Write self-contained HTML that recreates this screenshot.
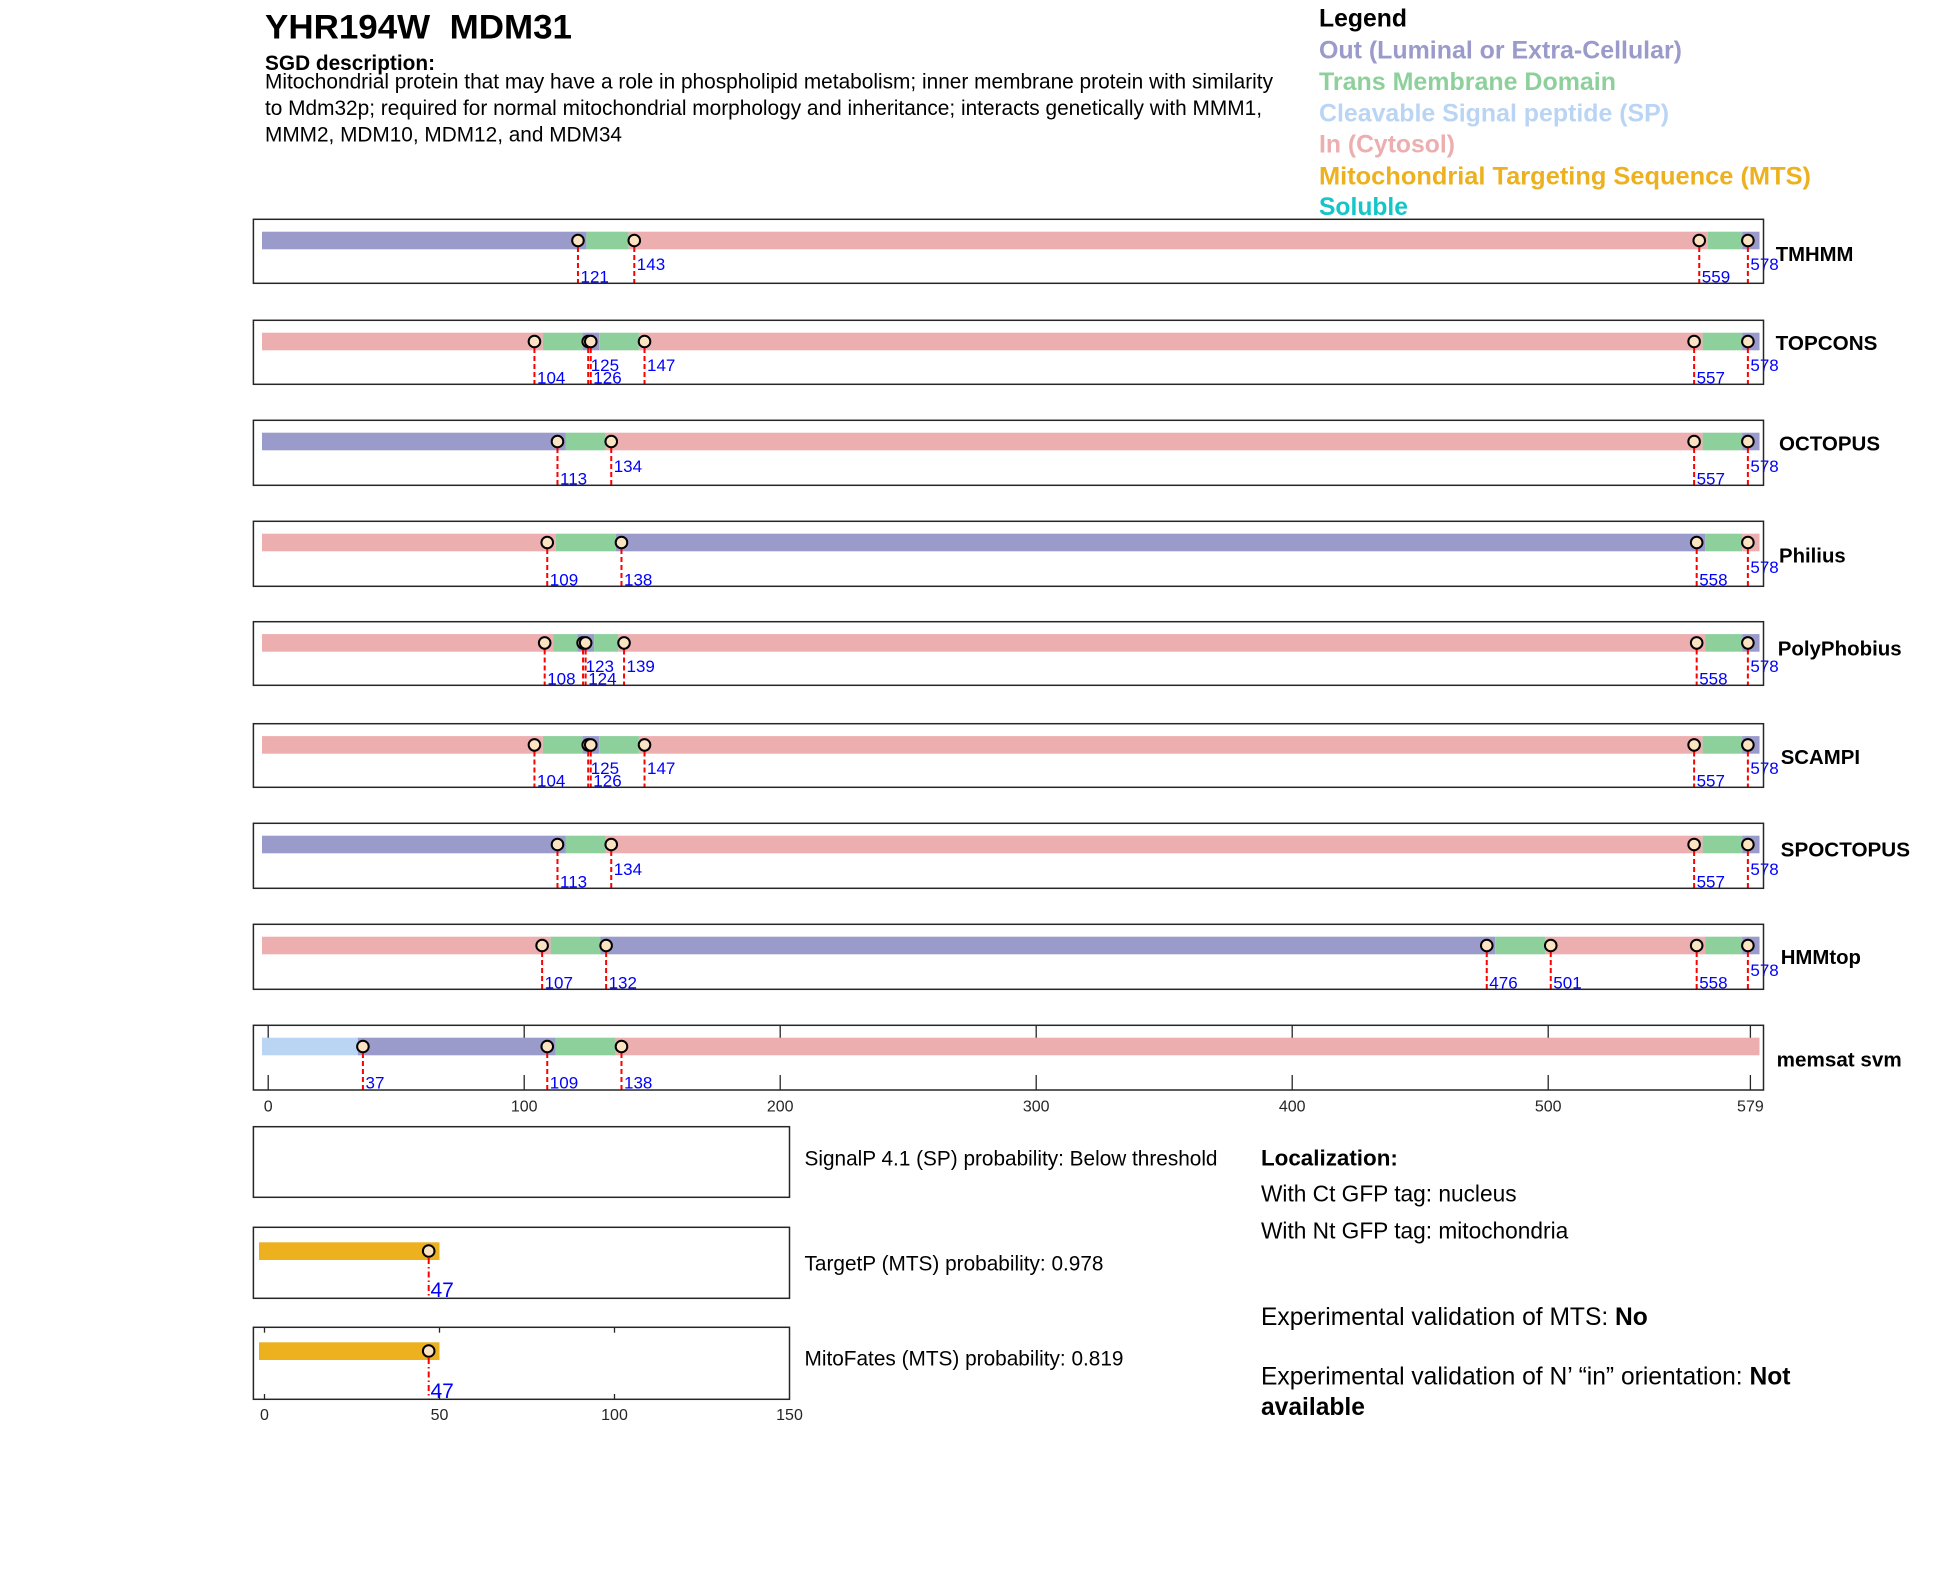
<!DOCTYPE html>
<html><head><meta charset="utf-8"><style>
html,body{margin:0;padding:0;background:#fff;}
svg{display:block;}
text{font-family:"Liberation Sans",Arial,sans-serif;}
.b{font-weight:bold;}
.lab{font-size:17px;fill:#0000ff;}
.pl{font-size:20.5px;font-weight:bold;fill:#000;}
.tk{font-size:16px;fill:#262626;text-anchor:middle;}
.rl{stroke:#ff0000;stroke-width:2;stroke-dasharray:5 3;}
.rd{stroke:#ff0000;stroke-width:2;stroke-dasharray:6 3 1.5 3;}
.mk{fill:#fce3c2;stroke:#000;stroke-width:2;}
.fr{fill:none;stroke:#262626;stroke-width:1.5;}
.tkl{stroke:#262626;stroke-width:1.3;}
</style></head><body>
<svg width="1950" height="1573" viewBox="0 0 1950 1573" xmlns="http://www.w3.org/2000/svg">
<rect width="1950" height="1573" fill="#fff"/>
<defs>
<g id="tc">
  <rect x="262" y="0" width="280.9" height="17.6" fill="#edaeaf"/>
  <rect x="542.9" y="0" width="39.7" height="17.6" fill="#8ed09c"/>
  <rect x="582.6" y="0" width="16.6" height="17.6" fill="#9a9acb"/>
  <rect x="599.2" y="0" width="39.7" height="17.6" fill="#8ed09c"/>
  <rect x="638.9" y="0" width="1063.7" height="17.6" fill="#edaeaf"/>
  <rect x="1702.6" y="0" width="39.6" height="17.6" fill="#8ed09c"/>
  <rect x="1742.2" y="0" width="17.3" height="17.6" fill="#9a9acb"/>
</g>
<g id="oc">
  <rect x="262" y="0" width="303.9" height="17.6" fill="#9a9acb"/>
  <rect x="565.9" y="0" width="39.7" height="17.6" fill="#8ed09c"/>
  <rect x="605.6" y="0" width="1097" height="17.6" fill="#edaeaf"/>
  <rect x="1702.6" y="0" width="39.6" height="17.6" fill="#8ed09c"/>
  <rect x="1742.2" y="0" width="17.3" height="17.6" fill="#9a9acb"/>
</g>
</defs>

<!-- Title & description -->
<text x="265" y="38.5" class="b" font-size="34" textLength="307" lengthAdjust="spacingAndGlyphs" xml:space="preserve">YHR194W  MDM31</text>
<text x="265" y="70" class="b" font-size="20.8" textLength="170" lengthAdjust="spacingAndGlyphs">SGD description:</text>
<text x="265" y="88.3" font-size="20.8" textLength="1008" lengthAdjust="spacingAndGlyphs">Mitochondrial protein that may have a role in phospholipid metabolism; inner membrane protein with similarity</text>
<text x="265" y="115" font-size="20.8" textLength="997" lengthAdjust="spacingAndGlyphs">to Mdm32p; required for normal mitochondrial morphology and inheritance; interacts genetically with MMM1,</text>
<text x="265" y="141.7" font-size="20.8" textLength="357" lengthAdjust="spacingAndGlyphs">MMM2, MDM10, MDM12, and MDM34</text>

<!-- Legend -->
<text x="1319" y="26.7" class="b" font-size="25" fill="#000" textLength="88" lengthAdjust="spacingAndGlyphs">Legend</text>
<text x="1319" y="58.3" class="b" font-size="25" fill="#9a9acb" textLength="363" lengthAdjust="spacingAndGlyphs">Out (Luminal or Extra-Cellular)</text>
<text x="1319" y="90" class="b" font-size="25" fill="#8ed09c" textLength="297" lengthAdjust="spacingAndGlyphs">Trans Membrane Domain</text>
<text x="1319" y="121.7" class="b" font-size="25" fill="#bad5f4" textLength="350" lengthAdjust="spacingAndGlyphs">Cleavable Signal peptide (SP)</text>
<text x="1319" y="152.7" class="b" font-size="25" fill="#edaeaf" textLength="136" lengthAdjust="spacingAndGlyphs">In (Cytosol)</text>
<text x="1319" y="184.3" class="b" font-size="25" fill="#edb120" textLength="492" lengthAdjust="spacingAndGlyphs">Mitochondrial Targeting Sequence (MTS)</text>
<text x="1319" y="215" class="b" font-size="25" fill="#14c6c8" textLength="89" lengthAdjust="spacingAndGlyphs">Soluble</text>

<!-- Panel 1 TMHMM -->
<g transform="translate(0,231.7)">
  <rect x="262" y="0" width="324.4" height="17.6" fill="#9a9acb"/>
  <rect x="586.4" y="0" width="42.25" height="17.6" fill="#8ed09c"/>
  <rect x="628.65" y="0" width="1079.05" height="17.6" fill="#edaeaf"/>
  <rect x="1707.7" y="0" width="34.5" height="17.6" fill="#8ed09c"/>
  <rect x="1742.2" y="0" width="17.3" height="17.6" fill="#9a9acb"/>
</g>
<g>
  <line class="rl" x1="577.96" y1="247" x2="577.96" y2="283.3"/>
  <line class="rl" x1="634.28" y1="247" x2="634.28" y2="283.3"/>
  <line class="rl" x1="1699.24" y1="247" x2="1699.24" y2="283.3"/>
  <line class="rl" x1="1747.88" y1="247" x2="1747.88" y2="283.3"/>
  <circle class="mk" cx="577.96" cy="240.5" r="5.8"/>
  <circle class="mk" cx="634.28" cy="240.5" r="5.8"/>
  <circle class="mk" cx="1699.24" cy="240.5" r="5.8"/>
  <circle class="mk" cx="1747.88" cy="240.5" r="5.8"/>
  <text class="lab" x="580.5" y="282.3">121</text>
  <text class="lab" x="636.8" y="269.8">143</text>
  <text class="lab" x="1701.8" y="282.3">559</text>
  <text class="lab" x="1750.4" y="269.8">578</text>
  <rect class="fr" x="253.4" y="219.3" width="1510.1" height="64"/>
  <text class="pl" x="1775.7" y="261" textLength="77.7" lengthAdjust="spacingAndGlyphs">TMHMM</text>
</g>

<!-- Panel 2 TOPCONS -->
<use href="#tc" transform="translate(0,332.7)"/>
<g>
  <line class="rl" x1="534.44" y1="348" x2="534.44" y2="384.3"/>
  <line class="rl" x1="588.2" y1="348" x2="588.2" y2="384.3"/>
  <line class="rl" x1="590.76" y1="348" x2="590.76" y2="384.3"/>
  <line class="rl" x1="644.52" y1="348" x2="644.52" y2="384.3"/>
  <line class="rl" x1="1694.12" y1="348" x2="1694.12" y2="384.3"/>
  <line class="rl" x1="1747.88" y1="348" x2="1747.88" y2="384.3"/>
  <circle class="mk" cx="534.44" cy="341.5" r="5.8"/>
  <circle class="mk" cx="588.2" cy="341.5" r="5.8"/>
  <circle class="mk" cx="590.76" cy="341.5" r="5.8"/>
  <circle class="mk" cx="644.52" cy="341.5" r="5.8"/>
  <circle class="mk" cx="1694.12" cy="341.5" r="5.8"/>
  <circle class="mk" cx="1747.88" cy="341.5" r="5.8"/>
  <text class="lab" x="537" y="383.3">104</text>
  <text class="lab" x="590.7" y="370.8">125</text>
  <text class="lab" x="593.3" y="383.3">126</text>
  <text class="lab" x="647" y="370.8">147</text>
  <text class="lab" x="1696.6" y="383.3">557</text>
  <text class="lab" x="1750.4" y="370.8">578</text>
  <rect class="fr" x="253.4" y="320.3" width="1510.1" height="64"/>
  <text class="pl" x="1775.7" y="350" textLength="101.7" lengthAdjust="spacingAndGlyphs">TOPCONS</text>
</g>

<!-- Panel 3 OCTOPUS -->
<use href="#oc" transform="translate(0,432.7)"/>
<g>
  <line class="rl" x1="557.48" y1="448" x2="557.48" y2="485.3"/>
  <line class="rl" x1="611.24" y1="448" x2="611.24" y2="485.3"/>
  <line class="rl" x1="1694.12" y1="448" x2="1694.12" y2="485.3"/>
  <line class="rl" x1="1747.88" y1="448" x2="1747.88" y2="485.3"/>
  <circle class="mk" cx="557.48" cy="441.5" r="5.8"/>
  <circle class="mk" cx="611.24" cy="441.5" r="5.8"/>
  <circle class="mk" cx="1694.12" cy="441.5" r="5.8"/>
  <circle class="mk" cx="1747.88" cy="441.5" r="5.8"/>
  <text class="lab" x="560" y="484.3">113</text>
  <text class="lab" x="613.7" y="471.8">134</text>
  <text class="lab" x="1696.6" y="484.3">557</text>
  <text class="lab" x="1750.4" y="471.8">578</text>
  <rect class="fr" x="253.4" y="420.3" width="1510.1" height="65"/>
  <text class="pl" x="1779" y="450.7" textLength="101" lengthAdjust="spacingAndGlyphs">OCTOPUS</text>
</g>

<!-- Panel 4 Philius -->
<g transform="translate(0,533.7)">
  <rect x="262" y="0" width="293.7" height="17.6" fill="#edaeaf"/>
  <rect x="555.7" y="0" width="60.1" height="17.6" fill="#8ed09c"/>
  <rect x="615.8" y="0" width="1089.3" height="17.6" fill="#9a9acb"/>
  <rect x="1705.1" y="0" width="37.1" height="17.6" fill="#8ed09c"/>
  <rect x="1742.2" y="0" width="17.3" height="17.6" fill="#edaeaf"/>
</g>
<g>
  <line class="rl" x1="547.24" y1="549" x2="547.24" y2="586.3"/>
  <line class="rl" x1="621.48" y1="549" x2="621.48" y2="586.3"/>
  <line class="rl" x1="1696.68" y1="549" x2="1696.68" y2="586.3"/>
  <line class="rl" x1="1747.88" y1="549" x2="1747.88" y2="586.3"/>
  <circle class="mk" cx="547.24" cy="542.5" r="5.8"/>
  <circle class="mk" cx="621.48" cy="542.5" r="5.8"/>
  <circle class="mk" cx="1696.68" cy="542.5" r="5.8"/>
  <circle class="mk" cx="1747.88" cy="542.5" r="5.8"/>
  <text class="lab" x="549.8" y="585.3">109</text>
  <text class="lab" x="624" y="585.3">138</text>
  <text class="lab" x="1699.2" y="585.3">558</text>
  <text class="lab" x="1750.4" y="572.8">578</text>
  <rect class="fr" x="253.4" y="521.3" width="1510.1" height="65"/>
  <text class="pl" x="1779" y="562.3" textLength="66.7" lengthAdjust="spacingAndGlyphs">Philius</text>
</g>

<!-- Panel 5 PolyPhobius -->
<g transform="translate(0,634.1)">
  <rect x="262" y="0" width="291.1" height="17.6" fill="#edaeaf"/>
  <rect x="553.1" y="0" width="24.3" height="17.6" fill="#8ed09c"/>
  <rect x="577.4" y="0" width="16.7" height="17.6" fill="#9a9acb"/>
  <rect x="594.1" y="0" width="24.3" height="17.6" fill="#8ed09c"/>
  <rect x="618.4" y="0" width="1086.7" height="17.6" fill="#edaeaf"/>
  <rect x="1705.1" y="0" width="37.1" height="17.6" fill="#8ed09c"/>
  <rect x="1742.2" y="0" width="17.3" height="17.6" fill="#9a9acb"/>
</g>
<g>
  <line class="rl" x1="544.68" y1="649.5" x2="544.68" y2="685.3"/>
  <line class="rl" x1="583.08" y1="649.5" x2="583.08" y2="685.3"/>
  <line class="rl" x1="585.64" y1="649.5" x2="585.64" y2="685.3"/>
  <line class="rl" x1="624.04" y1="649.5" x2="624.04" y2="685.3"/>
  <line class="rl" x1="1696.68" y1="649.5" x2="1696.68" y2="685.3"/>
  <line class="rl" x1="1747.88" y1="649.5" x2="1747.88" y2="685.3"/>
  <circle class="mk" cx="544.68" cy="642.9" r="5.8"/>
  <circle class="mk" cx="583.08" cy="642.9" r="5.8"/>
  <circle class="mk" cx="585.64" cy="642.9" r="5.8"/>
  <circle class="mk" cx="624.04" cy="642.9" r="5.8"/>
  <circle class="mk" cx="1696.68" cy="642.9" r="5.8"/>
  <circle class="mk" cx="1747.88" cy="642.9" r="5.8"/>
  <text class="lab" x="547.2" y="684.3">108</text>
  <text class="lab" x="585.6" y="671.8">123</text>
  <text class="lab" x="588.2" y="684.3">124</text>
  <text class="lab" x="626.5" y="671.8">139</text>
  <text class="lab" x="1699.2" y="684.3">558</text>
  <text class="lab" x="1750.4" y="671.8">578</text>
  <rect class="fr" x="253.4" y="621.7" width="1510.1" height="63.6"/>
  <text class="pl" x="1777.7" y="655.7" textLength="124" lengthAdjust="spacingAndGlyphs">PolyPhobius</text>
</g>

<!-- Panel 6 SCAMPI -->
<use href="#tc" transform="translate(0,736.1)"/>
<g>
  <line class="rl" x1="534.44" y1="751.5" x2="534.44" y2="787.3"/>
  <line class="rl" x1="588.2" y1="751.5" x2="588.2" y2="787.3"/>
  <line class="rl" x1="590.76" y1="751.5" x2="590.76" y2="787.3"/>
  <line class="rl" x1="644.52" y1="751.5" x2="644.52" y2="787.3"/>
  <line class="rl" x1="1694.12" y1="751.5" x2="1694.12" y2="787.3"/>
  <line class="rl" x1="1747.88" y1="751.5" x2="1747.88" y2="787.3"/>
  <circle class="mk" cx="534.44" cy="744.9" r="5.8"/>
  <circle class="mk" cx="588.2" cy="744.9" r="5.8"/>
  <circle class="mk" cx="590.76" cy="744.9" r="5.8"/>
  <circle class="mk" cx="644.52" cy="744.9" r="5.8"/>
  <circle class="mk" cx="1694.12" cy="744.9" r="5.8"/>
  <circle class="mk" cx="1747.88" cy="744.9" r="5.8"/>
  <text class="lab" x="537" y="786.3">104</text>
  <text class="lab" x="590.7" y="773.8">125</text>
  <text class="lab" x="593.3" y="786.3">126</text>
  <text class="lab" x="647" y="773.8">147</text>
  <text class="lab" x="1696.6" y="786.3">557</text>
  <text class="lab" x="1750.4" y="773.8">578</text>
  <rect class="fr" x="253.4" y="723.7" width="1510.1" height="63.6"/>
  <text class="pl" x="1780.7" y="764" textLength="79.3" lengthAdjust="spacingAndGlyphs">SCAMPI</text>
</g>

<!-- Panel 7 SPOCTOPUS -->
<use href="#oc" transform="translate(0,835.7)"/>
<g>
  <line class="rl" x1="557.48" y1="851" x2="557.48" y2="888.3"/>
  <line class="rl" x1="611.24" y1="851" x2="611.24" y2="888.3"/>
  <line class="rl" x1="1694.12" y1="851" x2="1694.12" y2="888.3"/>
  <line class="rl" x1="1747.88" y1="851" x2="1747.88" y2="888.3"/>
  <circle class="mk" cx="557.48" cy="844.5" r="5.8"/>
  <circle class="mk" cx="611.24" cy="844.5" r="5.8"/>
  <circle class="mk" cx="1694.12" cy="844.5" r="5.8"/>
  <circle class="mk" cx="1747.88" cy="844.5" r="5.8"/>
  <text class="lab" x="560" y="887.3">113</text>
  <text class="lab" x="613.7" y="874.8">134</text>
  <text class="lab" x="1696.6" y="887.3">557</text>
  <text class="lab" x="1750.4" y="874.8">578</text>
  <rect class="fr" x="253.4" y="823.3" width="1510.1" height="65"/>
  <text class="pl" x="1780.7" y="856.7" textLength="129.3" lengthAdjust="spacingAndGlyphs">SPOCTOPUS</text>
</g>

<!-- Panel 8 HMMtop -->
<g transform="translate(0,936.7)">
  <rect x="262" y="0" width="288.6" height="17.6" fill="#edaeaf"/>
  <rect x="550.6" y="0" width="49.9" height="17.6" fill="#8ed09c"/>
  <rect x="600.5" y="0" width="894.7" height="17.6" fill="#9a9acb"/>
  <rect x="1495.2" y="0" width="49.9" height="17.6" fill="#8ed09c"/>
  <rect x="1545.1" y="0" width="160" height="17.6" fill="#edaeaf"/>
  <rect x="1705.1" y="0" width="37.1" height="17.6" fill="#8ed09c"/>
  <rect x="1742.2" y="0" width="17.3" height="17.6" fill="#9a9acb"/>
</g>
<g>
  <line class="rl" x1="542.12" y1="952" x2="542.12" y2="989.3"/>
  <line class="rl" x1="606.12" y1="952" x2="606.12" y2="989.3"/>
  <line class="rl" x1="1486.76" y1="952" x2="1486.76" y2="989.3"/>
  <line class="rl" x1="1550.76" y1="952" x2="1550.76" y2="989.3"/>
  <line class="rl" x1="1696.68" y1="952" x2="1696.68" y2="989.3"/>
  <line class="rl" x1="1747.88" y1="952" x2="1747.88" y2="989.3"/>
  <circle class="mk" cx="542.12" cy="945.5" r="5.8"/>
  <circle class="mk" cx="606.12" cy="945.5" r="5.8"/>
  <circle class="mk" cx="1486.76" cy="945.5" r="5.8"/>
  <circle class="mk" cx="1550.76" cy="945.5" r="5.8"/>
  <circle class="mk" cx="1696.68" cy="945.5" r="5.8"/>
  <circle class="mk" cx="1747.88" cy="945.5" r="5.8"/>
  <text class="lab" x="544.6" y="988.3">107</text>
  <text class="lab" x="608.6" y="988.3">132</text>
  <text class="lab" x="1489.3" y="988.3">476</text>
  <text class="lab" x="1553.3" y="988.3">501</text>
  <text class="lab" x="1699.2" y="988.3">558</text>
  <text class="lab" x="1750.4" y="975.8">578</text>
  <rect class="fr" x="253.4" y="924.3" width="1510.1" height="65"/>
  <text class="pl" x="1780.7" y="964" textLength="80.3" lengthAdjust="spacingAndGlyphs">HMMtop</text>
</g>

<!-- Panel 9 memsat svm -->
<g>
  <line class="tkl" x1="268.2" y1="1025.3" x2="268.2" y2="1040.3"/>
  <line class="tkl" x1="524.2" y1="1025.3" x2="524.2" y2="1040.3"/>
  <line class="tkl" x1="780.2" y1="1025.3" x2="780.2" y2="1040.3"/>
  <line class="tkl" x1="1036.2" y1="1025.3" x2="1036.2" y2="1040.3"/>
  <line class="tkl" x1="1292.2" y1="1025.3" x2="1292.2" y2="1040.3"/>
  <line class="tkl" x1="1548.2" y1="1025.3" x2="1548.2" y2="1040.3"/>
  <line class="tkl" x1="1750.4" y1="1025.3" x2="1750.4" y2="1040.3"/>
  <line class="tkl" x1="268.2" y1="1075" x2="268.2" y2="1090"/>
  <line class="tkl" x1="524.2" y1="1075" x2="524.2" y2="1090"/>
  <line class="tkl" x1="780.2" y1="1075" x2="780.2" y2="1090"/>
  <line class="tkl" x1="1036.2" y1="1075" x2="1036.2" y2="1090"/>
  <line class="tkl" x1="1292.2" y1="1075" x2="1292.2" y2="1090"/>
  <line class="tkl" x1="1548.2" y1="1075" x2="1548.2" y2="1090"/>
  <line class="tkl" x1="1750.4" y1="1075" x2="1750.4" y2="1090"/>
</g>
<g transform="translate(0,1037.7)">
  <rect x="262" y="0" width="95.8" height="17.6" fill="#bad5f4"/>
  <rect x="357.8" y="0" width="197.9" height="17.6" fill="#9a9acb"/>
  <rect x="555.7" y="0" width="60.1" height="17.6" fill="#8ed09c"/>
  <rect x="615.8" y="0" width="1143.7" height="17.6" fill="#edaeaf"/>
</g>
<g>
  <line class="rl" x1="362.92" y1="1053" x2="362.92" y2="1090"/>
  <line class="rl" x1="547.24" y1="1053" x2="547.24" y2="1090"/>
  <line class="rl" x1="621.48" y1="1053" x2="621.48" y2="1090"/>
  <circle class="mk" cx="362.92" cy="1046.5" r="5.8"/>
  <circle class="mk" cx="547.24" cy="1046.5" r="5.8"/>
  <circle class="mk" cx="621.48" cy="1046.5" r="5.8"/>
  <text class="lab" x="365.5" y="1088.5">37</text>
  <text class="lab" x="549.8" y="1088.5">109</text>
  <text class="lab" x="624" y="1088.5">138</text>
  <rect class="fr" x="253.4" y="1025.3" width="1510.1" height="64.7"/>
  <text class="pl" x="1776.7" y="1066.7" textLength="125" lengthAdjust="spacingAndGlyphs">memsat svm</text>
  <text class="tk" x="268.2" y="1111.7">0</text>
  <text class="tk" x="524.2" y="1111.7">100</text>
  <text class="tk" x="780.2" y="1111.7">200</text>
  <text class="tk" x="1036.2" y="1111.7">300</text>
  <text class="tk" x="1292.2" y="1111.7">400</text>
  <text class="tk" x="1548.2" y="1111.7">500</text>
  <text class="tk" x="1750.4" y="1111.7">579</text>
</g>

<!-- SignalP -->
<rect class="fr" x="253.4" y="1126.7" width="536.1" height="70.6"/>
<text x="804.5" y="1165.7" font-size="20.8" fill="#000" textLength="413" lengthAdjust="spacingAndGlyphs">SignalP 4.1 (SP) probability: Below threshold</text>

<!-- TargetP -->
<rect x="259" y="1242.3" width="180.5" height="17.7" fill="#edb120"/>
<line class="rd" x1="428.7" y1="1258" x2="428.7" y2="1298.3"/>
<circle class="mk" cx="428.7" cy="1251" r="5.8"/>
<text x="430.5" y="1296.8" font-size="21" fill="#0000ff">47</text>
<rect class="fr" x="253.4" y="1227.3" width="536.1" height="71"/>
<text x="804.5" y="1270.7" font-size="20.8" fill="#000">TargetP (MTS) probability: 0.978</text>

<!-- MitoFates -->
<line class="tkl" x1="264.5" y1="1327.3" x2="264.5" y2="1332.7"/>
<line class="tkl" x1="439.5" y1="1327.3" x2="439.5" y2="1332.7"/>
<line class="tkl" x1="614.5" y1="1327.3" x2="614.5" y2="1332.7"/>
<line class="tkl" x1="264.5" y1="1394" x2="264.5" y2="1399.3"/>
<line class="tkl" x1="439.5" y1="1394" x2="439.5" y2="1399.3"/>
<line class="tkl" x1="614.5" y1="1394" x2="614.5" y2="1399.3"/>
<rect x="259" y="1342.3" width="180.5" height="17.7" fill="#edb120"/>
<line class="rd" x1="428.7" y1="1358" x2="428.7" y2="1399.3"/>
<circle class="mk" cx="428.7" cy="1351" r="5.8"/>
<text x="430.5" y="1397.8" font-size="21" fill="#0000ff">47</text>
<rect class="fr" x="253.4" y="1327.3" width="536.1" height="72"/>
<text x="804.5" y="1365.7" font-size="20.8" fill="#000">MitoFates (MTS) probability: 0.819</text>
<text class="tk" x="264.5" y="1420">0</text>
<text class="tk" x="439.5" y="1420">50</text>
<text class="tk" x="614.5" y="1420">100</text>
<text class="tk" x="789.5" y="1420">150</text>

<!-- Localization -->
<text x="1261" y="1165.7" class="b" font-size="22.4" fill="#000">Localization:</text>
<text x="1261" y="1201.7" font-size="22.7" fill="#000">With Ct GFP tag: nucleus</text>
<text x="1261" y="1238.3" font-size="22.7" fill="#000">With Nt GFP tag: mitochondria</text>
<text x="1261" y="1325" font-size="24.6" fill="#000">Experimental validation of MTS: <tspan font-weight="bold">No</tspan></text>
<text x="1261" y="1384.3" font-size="24.6" fill="#000">Experimental validation of N’ “in” orientation: <tspan font-weight="bold">Not</tspan></text>
<text x="1261" y="1415" font-size="24.6" font-weight="bold" fill="#000">available</text>
</svg>
</body></html>
